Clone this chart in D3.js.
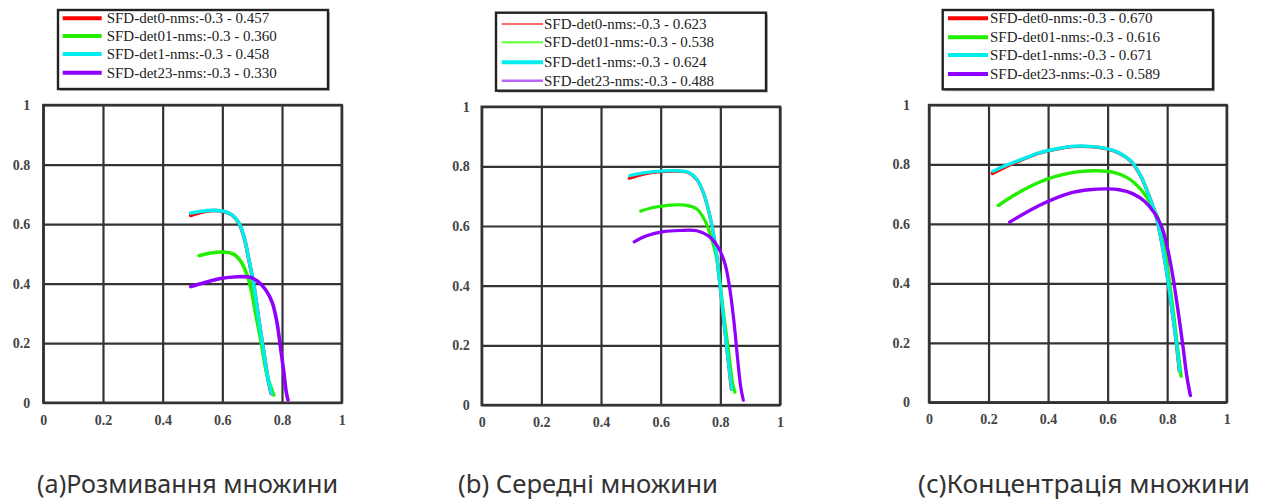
<!DOCTYPE html>
<html>
<head>
<meta charset="utf-8">
<script src="https://cdn.jsdelivr.net/npm/d3@7"></script>
<style>
  body { margin: 0; background: #fff; }
  svg { display: block; }
</style>
</head>
<body>
<svg width="1269" height="499"></svg>
<script>
var xTicks = [0, 0.2, 0.4, 0.6, 0.8, 1]
var yTicks = [0, 0.2, 0.4, 0.6, 0.8, 1]

var seriesNames = ['SFD-det0-nms:-0.3', 'SFD-det01-nms:-0.3', 'SFD-det1-nms:-0.3', 'SFD-det23-nms:-0.3']
var seriesColors = ['#ff0000', '#22ee00', '#00eeee', '#8f00ff']

var captions = ['(a)Розмивання множини', '(b) Середні множини', '(c)Концентрація множини']

// average precision shown in each legend
var apBlur = [0.457, 0.360, 0.458, 0.330]
var apMid = [0.623, 0.538, 0.624, 0.488]
var apConc = [0.670, 0.616, 0.671, 0.589]

// (recall, precision) points
var blurDet0 = [[0.494, 0.629], [0.53, 0.640], [0.561, 0.645], [0.6, 0.643], [0.633, 0.630], [0.656, 0.602], [0.672, 0.558], [0.689, 0.48], [0.706, 0.391], [0.722, 0.28], [0.739, 0.169], [0.755, 0.069], [0.764, 0.03]]
var blurDet01 = [[0.522, 0.494], [0.561, 0.503], [0.606, 0.506], [0.639, 0.498], [0.661, 0.476], [0.678, 0.442], [0.694, 0.392], [0.711, 0.303], [0.728, 0.214], [0.75, 0.092], [0.772, 0.026]]
var blurDet1 = [[0.494, 0.637], [0.53, 0.643], [0.561, 0.646], [0.6, 0.644], [0.633, 0.631], [0.656, 0.603], [0.672, 0.559], [0.689, 0.481], [0.706, 0.392], [0.722, 0.281], [0.739, 0.17], [0.755, 0.07], [0.765, 0.031]]
var blurDet23 = [[0.494, 0.39], [0.539, 0.403], [0.594, 0.417], [0.65, 0.423], [0.689, 0.422], [0.717, 0.409], [0.744, 0.381], [0.767, 0.337], [0.783, 0.27], [0.794, 0.192], [0.806, 0.103], [0.814, 0.037], [0.82, 0.009]]

var midDet0 = [[0.495, 0.76], [0.542, 0.774], [0.598, 0.782], [0.654, 0.784], [0.693, 0.779], [0.721, 0.756], [0.743, 0.712], [0.765, 0.633], [0.782, 0.544], [0.793, 0.454], [0.804, 0.353], [0.816, 0.241], [0.827, 0.141], [0.837, 0.052]]
var midDet01 = [[0.533, 0.65], [0.575, 0.662], [0.631, 0.67], [0.682, 0.67], [0.721, 0.657], [0.749, 0.617], [0.771, 0.556], [0.788, 0.489], [0.799, 0.41], [0.812, 0.298], [0.827, 0.186], [0.841, 0.074], [0.849, 0.043]]
var midDet1 = [[0.497, 0.769], [0.542, 0.778], [0.598, 0.784], [0.654, 0.785], [0.693, 0.78], [0.721, 0.757], [0.743, 0.713], [0.765, 0.634], [0.782, 0.545], [0.793, 0.455], [0.804, 0.354], [0.816, 0.242], [0.827, 0.142], [0.838, 0.052]]
var midDet23 = [[0.511, 0.547], [0.553, 0.567], [0.609, 0.581], [0.665, 0.585], [0.721, 0.584], [0.76, 0.567], [0.793, 0.528], [0.816, 0.472], [0.832, 0.388], [0.846, 0.276], [0.857, 0.164], [0.868, 0.063], [0.877, 0.016]]

var concDet0 = [[0.213, 0.77], [0.257, 0.792], [0.313, 0.816], [0.37, 0.838], [0.426, 0.851], [0.482, 0.86], [0.538, 0.86], [0.594, 0.853], [0.639, 0.838], [0.679, 0.81], [0.712, 0.759], [0.74, 0.692], [0.763, 0.625], [0.78, 0.546], [0.797, 0.446], [0.813, 0.334], [0.828, 0.222], [0.841, 0.105]]
var concDet01 = [[0.233, 0.662], [0.28, 0.693], [0.336, 0.724], [0.392, 0.749], [0.448, 0.766], [0.504, 0.776], [0.561, 0.779], [0.617, 0.774], [0.667, 0.755], [0.707, 0.721], [0.74, 0.676], [0.769, 0.62], [0.788, 0.547], [0.802, 0.447], [0.817, 0.335], [0.833, 0.2], [0.847, 0.088]]
var concDet1 = [[0.215, 0.777], [0.257, 0.796], [0.313, 0.818], [0.37, 0.839], [0.426, 0.852], [0.482, 0.861], [0.538, 0.861], [0.594, 0.854], [0.639, 0.839], [0.679, 0.811], [0.712, 0.76], [0.74, 0.693], [0.763, 0.626], [0.78, 0.547], [0.797, 0.447], [0.813, 0.335], [0.828, 0.223], [0.842, 0.105]]
var concDet23 = [[0.271, 0.606], [0.313, 0.631], [0.37, 0.662], [0.426, 0.687], [0.482, 0.706], [0.538, 0.715], [0.594, 0.718], [0.639, 0.715], [0.684, 0.702], [0.724, 0.676], [0.757, 0.637], [0.783, 0.587], [0.802, 0.514], [0.819, 0.424], [0.836, 0.312], [0.853, 0.189], [0.866, 0.088], [0.878, 0.023]]

var panels = [
  {left: 43.3, top: 105, w: 298.4, h: 297.7, yPad: 13, lw: 3.6,
   ap: apBlur, curves: [blurDet0, blurDet01, blurDet1, blurDet23],
   legend: {x0: 58, y0: 10, x1: 328, y1: 89, lx0: 62.7, lx1: 101.7, tx: 106.7, rows: [18.3, 36, 54, 72.7], lws: [4, 4, 4, 4], cols: seriesColors},
   cap: {x: 37, w: 301}},
  {left: 481.7, top: 106.7, w: 298.3, h: 298.3, yPad: 12, lw: 3.2,
   ap: apMid, curves: [midDet0, midDet01, midDet1, midDet23],
   legend: {x0: 496, y0: 12.7, x1: 766, y1: 90.7, lx0: 501.7, lx1: 543, tx: 544, rows: [24, 42.3, 62.3, 80.7], lws: [1.8, 2.4, 4, 2.4], cols: ['#ff6a6a', '#77ff55', '#00eeee', '#bb66ff']},
   cap: {x: 458, w: 260}},
  {left: 929, top: 105, w: 297.7, h: 297.3, yPad: 19, lw: 3.4,
   ap: apConc, curves: [concDet0, concDet01, concDet1, concDet23],
   legend: {x0: 942.7, y0: 10, x1: 1213, y1: 89.3, lx0: 948, lx1: 988, tx: 990, rows: [18.3, 37.3, 55, 74], lws: [4, 4, 4, 4], cols: seriesColors},
   cap: {x: 918, w: 332}}
]

var svg = d3.select('svg')
var drawOrder = [0, 1, 2, 3]

panels.forEach(function (p, i) {
  var x = d3.scaleLinear().domain([0, 1]).range([0, p.w])
  var y = d3.scaleLinear().domain([0, 1]).range([p.h, 0])

  var g = svg.append('g')
    .attr('transform', 'translate(' + p.left + ',' + p.top + ')')

  // grid
  g.append('g')
    .attr('class', 'grid')
    .attr('transform', 'translate(0,' + p.h + ')')
    .call(d3.axisBottom(x).tickValues(xTicks).tickSizeInner(-p.h).tickSizeOuter(0).tickFormat(''))
  g.append('g')
    .attr('class', 'grid')
    .call(d3.axisLeft(y).tickValues(yTicks).tickSizeInner(-p.w).tickSizeOuter(0).tickFormat(''))
  g.selectAll('.grid .domain').remove()
  g.selectAll('.grid line').attr('stroke', '#333').attr('stroke-width', 2.2)

  g.append('rect')
    .attr('width', p.w).attr('height', p.h)
    .attr('fill', 'none').attr('stroke', '#333').attr('stroke-width', 2.4)

  // tick labels
  var xa = g.append('g')
    .attr('transform', 'translate(0,' + p.h + ')')
    .call(d3.axisBottom(x).tickValues(xTicks).tickSize(0).tickPadding(12).tickFormat(d3.format('')))
  var ya = g.append('g')
    .call(d3.axisLeft(y).tickValues(yTicks).tickSize(0).tickPadding(p.yPad).tickFormat(d3.format('')))
  xa.select('.domain').remove()
  ya.select('.domain').remove()
  g.selectAll('.tick text')
    .attr('font-family', '"Liberation Serif", "Times New Roman", serif')
    .attr('font-size', 14)
    .attr('font-weight', 'bold')
    .attr('fill', '#444')

  // curves
  var line = d3.line()
    .x(function (d) { return x(d[0]) })
    .y(function (d) { return y(d[1]) })
    .curve(d3.curveCatmullRom.alpha(0.5))

  drawOrder.forEach(function (k) {
    g.append('path')
      .datum(p.curves[k])
      .attr('d', line)
      .attr('fill', 'none')
      .attr('stroke', seriesColors[k])
      .attr('stroke-width', p.lw)
      .attr('stroke-linecap', 'round')
      .attr('stroke-linejoin', 'round')
  })

  // legend
  var L = p.legend
  svg.append('rect')
    .attr('x', L.x0 + 2).attr('y', L.y0 + 2)
    .attr('width', L.x1 - L.x0).attr('height', L.y1 - L.y0)
    .attr('fill', '#bbb')
  svg.append('rect')
    .attr('x', L.x0).attr('y', L.y0)
    .attr('width', L.x1 - L.x0).attr('height', L.y1 - L.y0)
    .attr('fill', '#fff').attr('stroke', '#222').attr('stroke-width', 2.4)

  seriesNames.forEach(function (name, k) {
    svg.append('line')
      .attr('x1', L.lx0).attr('x2', L.lx1)
      .attr('y1', L.rows[k]).attr('y2', L.rows[k])
      .attr('stroke', L.cols[k]).attr('stroke-width', L.lws[k])
    svg.append('text')
      .attr('x', L.tx).attr('y', L.rows[k] + 5)
      .attr('font-family', '"Liberation Serif", "Times New Roman", serif')
      .attr('font-size', 15)
      .attr('fill', '#222')
      .text(name + ' - ' + d3.format('.3f')(p.ap[k]))
  })

  // caption
  svg.append('text')
    .attr('x', p.cap.x).attr('y', 493)
    .attr('font-family', '"Noto Sans", "Open Sans", sans-serif')
    .attr('font-size', 25)
    .attr('fill', '#333')
    .attr('textLength', p.cap.w)
    .attr('lengthAdjust', 'spacingAndGlyphs')
    .text(captions[i])
})
</script>
</body>
</html>
